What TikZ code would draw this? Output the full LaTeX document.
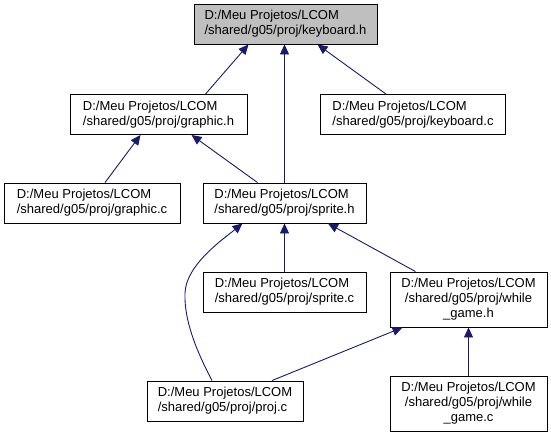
\documentclass[tikz,border=0pt]{standalone}
\usepackage{fontspec}
\setmainfont{Liberation Sans}
\usetikzlibrary{arrows.meta}
\definecolor{edgeblue}{HTML}{191970}
\definecolor{rootgray}{HTML}{BFBFBF}
\tikzset{
  file/.style={draw=black,fill=white,line width=0.9pt,inner sep=0pt,align=left,
               minimum height=40pt,font=\fontsize{13}{15}\selectfont},
  root/.style={file,fill=rootgray},
  tallfile/.style={file,align=center,minimum height=55pt},
  incl/.style={draw=edgeblue,line width=0.9pt,-{Triangle[length=10pt,width=9pt]}}
}

\begin{document}
\begin{tikzpicture}[x=1pt,y=-1pt]
  \useasboundingbox (0,0) rectangle (551,439);
  \node[root,minimum width=183pt] (kbh) at (285.5,24)
    {D:/Meu Projetos/LCOM\\/shared/g05/proj/keyboard.h};
  \node[file,minimum width=177pt] (graphich) at (158.5,114.5)
    {D:/Meu Projetos/LCOM\\/shared/g05/proj/graphic.h};
  \node[file,minimum width=185pt] (kbc) at (413,114.5)
    {D:/Meu Projetos/LCOM\\/shared/g05/proj/keyboard.c};
  \node[file,minimum width=176pt] (graphicc) at (92,203)
    {D:/Meu Projetos/LCOM\\/shared/g05/proj/graphic.c};
  \node[file,minimum width=163pt] (spriteh) at (284.5,203)
    {D:/Meu Projetos/LCOM\\/shared/g05/proj/sprite.h};
  \node[file,minimum width=163pt] (spritec) at (284.5,292)
    {D:/Meu Projetos/LCOM\\/shared/g05/proj/sprite.c};
  \node[tallfile,minimum width=157pt] (wgh) at (468.5,299.5)
    {D:/Meu Projetos/LCOM\\/shared/g05/proj/while\\\_game.h};
  \node[file,minimum width=156pt] (projc) at (225,401)
    {D:/Meu Projetos/LCOM\\/shared/g05/proj/proj.c};
  \node[tallfile,minimum width=157pt] (wgc) at (468.5,403.5)
    {D:/Meu Projetos/LCOM\\/shared/g05/proj/while\\\_game.c};

  % straight includes
  \foreach \a/\da/\b/\db in {graphich.north/47/kbh.south/-37,
                             kbc.north/-27/kbh.south/32,
                             spriteh.north/0/kbh.south/-1,
                             graphicc.north/13/graphich.south/-18,
                             spriteh.north/-27/graphich.south/33,
                             spritec.north/0/spriteh.south/0,
                             wgh.north/-53/spriteh.south/43.5,
                             projc.north/47/wgh.south/-66,
                             wgc.north/0/wgh.south/0}
    \draw[incl] ([xshift=\da pt]\a) -- ([xshift=\db pt]\b);
  % proj.c -> sprite.h bends round sprite.c
  \coordinate (bend) at (185,293);
  \draw[incl] ([xshift=-13pt]projc.north) .. controls (196,350) and (184,320) .. (bend)
    .. controls (186,265) and (222,240) .. ([xshift=-42pt]spriteh.south);
\end{tikzpicture}
\end{document}
